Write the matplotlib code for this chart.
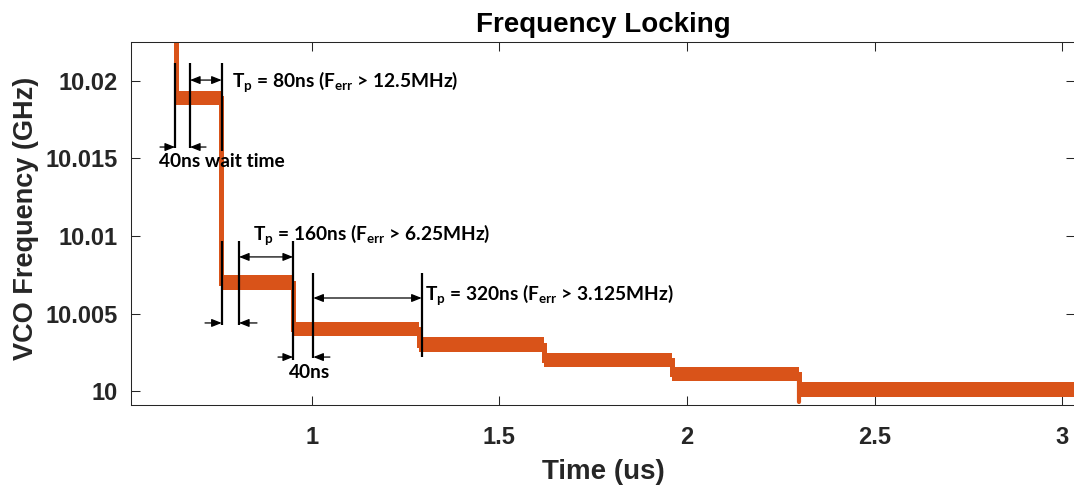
import matplotlib
matplotlib.use("Agg")
import matplotlib.pyplot as plt

# ---- data -------------------------------------------------------------
# VCO frequency settling: instants (us) where the loop applies a correction
step_times = [0.639, 0.7575, 0.949, 1.287, 1.619, 1.959, 2.299]
# frequency held after each correction (GHz); first entry is the start value
levels = [10.03, 10.0189, 10.0070, 10.0040, 10.0030, 10.0020, 10.0011, 10.0001]
settle_dip = 9.9993          # brief undershoot at the last correction (GHz)

x_ticks = [1, 1.5, 2, 2.5, 3]
x_tick_labels = ["1", "1.5", "2", "2.5", "3"]
y_ticks = [10, 10.005, 10.01, 10.015, 10.02]
y_tick_labels = ["10", "10.005", "10.01", "10.015", "10.02"]

# ---- styling ----------------------------------------------------------
plt.rcParams["font.family"] = ["Liberation Sans", "DejaVu Sans"]
plt.rcParams["mathtext.fontset"] = "custom"
plt.rcParams["mathtext.bf"] = "Lato:bold"
plt.rcParams["mathtext.rm"] = "Lato:bold"
plt.rcParams["mathtext.it"] = "Lato:bold"

ORANGE = "#D95319"
AXCOL = "#262626"
ANN_FONT = dict(family=["Lato", "DejaVu Sans"], weight="bold", size=13.8)

fig = plt.figure(figsize=(10.74, 4.88), dpi=100)
ax = fig.add_axes([131 / 1074, 83 / 488, 944 / 1074, 363 / 488])

# ---- trace ------------------------------------------------------------
t = [0.55] + step_times + [3.05]
f = levels + [levels[-1]]
band = 0.00047  # half thickness of the jittery trace
lo = [v - band for v in f]
hi = [v + band for v in f]
ax.fill_between(t, lo, hi, step="post", color=ORANGE, lw=0, zorder=2)
ax.plot(t, f, drawstyle="steps-post", color=ORANGE, lw=3.6, zorder=2,
        solid_joinstyle="miter")
ax.plot([step_times[-1], step_times[-1]], [levels[-2] - band, settle_dip],
        color=ORANGE, lw=3.0, zorder=2, solid_capstyle="round")

# ---- timing annotations ------------------------------------------------
def vline(x, y0, y1):
    ax.plot([x, x], [y0, y1], color="black", lw=1.6, zorder=4,
            solid_capstyle="butt")


def arrow(x0, x1, y, both=False):
    style = "<|-|>" if both else "-|>"
    ax.annotate("", xy=(x1, y), xytext=(x0, y),
                arrowprops=dict(arrowstyle=style + ",head_length=0.6,head_width=0.24",
                                color="black", lw=0.9, shrinkA=0, shrinkB=0),
                zorder=4)


# first window: 40 ns wait + 80 ns measurement
vline(0.6358, 10.01568, 10.02116)
vline(0.6757, 10.01568, 10.02116)
vline(0.7602, 10.01550, 10.02116)
arrow(0.6757, 0.7602, 10.02006, both=True)
arrow(0.5958, 0.6358, 10.01574)
arrow(0.7184, 0.6757, 10.01574)
ax.text(0.7876, 10.01963, r"$\mathbf{T_p}$ = 80ns ($\mathbf{F_{err}}$ > 12.5MHz)",
        ha="left", va="baseline", zorder=5, **ANN_FONT)
ax.text(0.5931, 10.01443, "40ns wait time", ha="left", va="baseline",
        zorder=5, **ANN_FONT)

# second window: 40 ns wait + 160 ns measurement
vline(0.7602, 10.00426, 10.00968)
vline(0.8063, 10.00426, 10.00968)
vline(0.9502, 10.00200, 10.00968)
arrow(0.8063, 0.9502, 10.00865, both=True)
arrow(0.7157, 0.7602, 10.00439)
arrow(0.8542, 0.8063, 10.00439)
ax.text(0.8436, 10.00974, r"$\mathbf{T_p}$ = 160ns ($\mathbf{F_{err}}$ > 6.25MHz)",
        ha="left", va="baseline", zorder=5, **ANN_FONT)

# third window: 40 ns wait + 320 ns measurement
vline(1.0043, 10.00213, 10.00761)
vline(1.2931, 10.00219, 10.00761)
arrow(1.0043, 1.2931, 10.0060, both=True)
arrow(0.9102, 0.9502, 10.00219)
arrow(1.0485, 1.0043, 10.00219)
ax.text(0.9395, 10.00084, "40ns", ha="left", va="baseline", zorder=5, **ANN_FONT)
ax.text(1.3019, 10.00587, r"$\mathbf{T_p}$ = 320ns ($\mathbf{F_{err}}$ > 3.125MHz)",
        ha="left", va="baseline", zorder=5, **ANN_FONT)

# ---- axes -------------------------------------------------------------
ax.set_xlim(0.5185, 3.0338)
ax.set_ylim(9.999097, 10.022516)
ax.set_xticks(x_ticks)
ax.set_xticklabels(x_tick_labels)
ax.set_yticks(y_ticks)
ax.set_yticklabels(y_tick_labels)
ax.tick_params(axis="both", direction="in", length=6.5, width=0.75,
               top=True, right=True, colors=AXCOL, labelsize=17)
ax.tick_params(axis="x", pad=15.0)
ax.tick_params(axis="y", pad=9.4)
for lab in ax.get_xticklabels() + ax.get_yticklabels():
    lab.set_fontweight("bold")
for sp in ax.spines.values():
    sp.set_color(AXCOL)
    sp.set_linewidth(0.75)

ax.set_title("Frequency Locking", fontsize=20, fontweight="bold",
             color="black", pad=7.2)
ax.set_xlabel("Time (us)", fontsize=20, fontweight="bold", color=AXCOL)
ax.xaxis.set_label_coords(0.5, (405 - 479) / 363)
ax.xaxis.label.set_va("baseline")
ax.set_ylabel("VCO Frequency (GHz)", fontsize=19.5, fontweight="bold",
              color=AXCOL)
ax.yaxis.set_label_coords((33 - 131) / 944, (405 - 218.5) / 363)
ax.yaxis.label.set_va("baseline")

fig.savefig("out.png", dpi=100)
